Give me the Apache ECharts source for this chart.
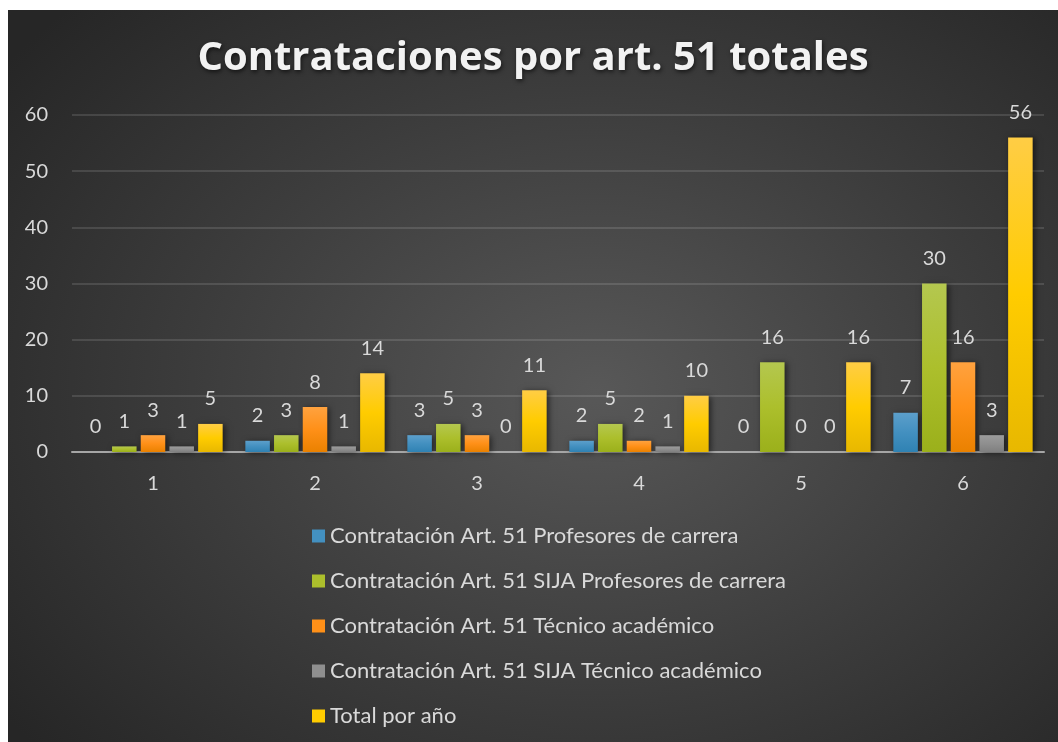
<!DOCTYPE html>
<html>
<head>
<meta charset="utf-8">
<script src="https://cdn.jsdelivr.net/npm/echarts@6/dist/echarts.min.js"></script>
<style>
  html, body { margin: 0; padding: 0; background: #fff; }
  #drew {
    position: absolute; left: 8px; top: 10px; width: 1050px; height: 732px;
    background: radial-gradient(ellipse 70% 75% at 56% 52%, #585858 0%, #3c3c3c 55%, #262626 100%);
  }
</style>
</head>
<body>
<div id="drew"></div>
<script>
   var categories = ['1', '2', '3', '4', '5', '6'];
   var profesores = [0, 2, 3, 2, 0, 7];
   var sijaProfesores = [1, 3, 5, 5, 16, 30];
   var tecnico = [3, 8, 3, 2, 0, 16];
   var sijaTecnico = [1, 1, 0, 1, 0, 3];
   var totalAnio = [5, 14, 11, 10, 16, 56];

   var names = [
       'Contratación Art. 51 Profesores de carrera',
       'Contratación Art. 51 SIJA Profesores de carrera',
       'Contratación Art. 51 Técnico académico',
       'Contratación Art. 51 SIJA Técnico académico',
       'Total por año'
   ];
   var values = [profesores, sijaProfesores, tecnico, sijaTecnico, totalAnio];
   // top / middle / bottom of each bar gradient
   var colors = [
       ['#5c9fcb', '#4390c0', '#2f82b3'],
       ['#b4c74f', '#acbf2c', '#9bb01b'],
       ['#ffa23f', '#ff9018', '#ea8100'],
       ['#9c9c9c', '#8f8f8f', '#7f7f7f'],
       ['#ffcd45', '#ffcc00', '#e8b800']
   ];
   var font = 'Lato, "Open Sans", sans-serif';

   function grad(c) {
       return new echarts.graphic.LinearGradient(0, 0, 0, 1, [
           { offset: 0, color: c[0] },
           { offset: 0.5, color: c[1] },
           { offset: 1, color: c[2] }
       ]);
   }

   var series = names.map(function (n, i) {
       return {
           name: n,
           type: 'bar',
           data: values[i],
           barGap: '17%',
           barCategoryGap: '14%',
           itemStyle: {
               color: grad(colors[i]),
               shadowBlur: 6,
               shadowOffsetX: 2,
               shadowOffsetY: 1,
               shadowColor: 'rgba(0,0,0,0.55)'
           },
           label: {
               show: true,
               position: 'top',
               distance: 15,
               color: '#d9d9d9',
               fontFamily: font,
               fontSize: 20
           }
       };
   });

   var myChart = echarts.init(document.getElementById('drew'));
   var option = {
       backgroundColor: 'transparent',
       textStyle: { fontFamily: font },
       title: {
           text: 'Contrataciones por art. 51 totales',
           left: 'center',
           top: 24,
           textStyle: {
               color: '#f2f2f2',
               fontFamily: '"Open Sans", Lato, sans-serif',
               fontWeight: 'bold',
               fontSize: 40,
               textShadowColor: 'rgba(0,0,0,0.6)',
               textShadowBlur: 4,
               textShadowOffsetX: 1,
               textShadowOffsetY: 2
           }
       },
       grid: { left: 64, right: 14, top: 105, bottom: 290 },
       legend: {
           orient: 'vertical',
           left: 299,
           top: 510,
           itemWidth: 13,
           itemHeight: 13,
           itemGap: 23,
           icon: 'rect',
           textStyle: { color: '#d9d9d9', fontSize: 22, fontFamily: font },
           data: names.map(function (n, i) {
               return { name: n, itemStyle: { color: colors[i][1] } };
           })
       },
       xAxis: {
           type: 'category',
           data: categories,
           axisLine: { lineStyle: { color: '#a6a6a6', width: 2 } },
           axisTick: { show: false },
           axisLabel: { color: '#d9d9d9', fontSize: 20, margin: 22 }
       },
       yAxis: {
           type: 'value',
           min: 0,
           max: 60,
           interval: 10,
           axisLine: { show: false },
           axisTick: { show: false },
           axisLabel: { color: '#d9d9d9', fontSize: 20, margin: 24 },
           splitLine: { lineStyle: { color: 'rgba(255,255,255,0.12)', width: 2 } }
       },
       series: series
   };
   myChart.setOption(option);
   window.addEventListener('resize', function () {
       myChart.resize();
   });
</script>
</body>
</html>
